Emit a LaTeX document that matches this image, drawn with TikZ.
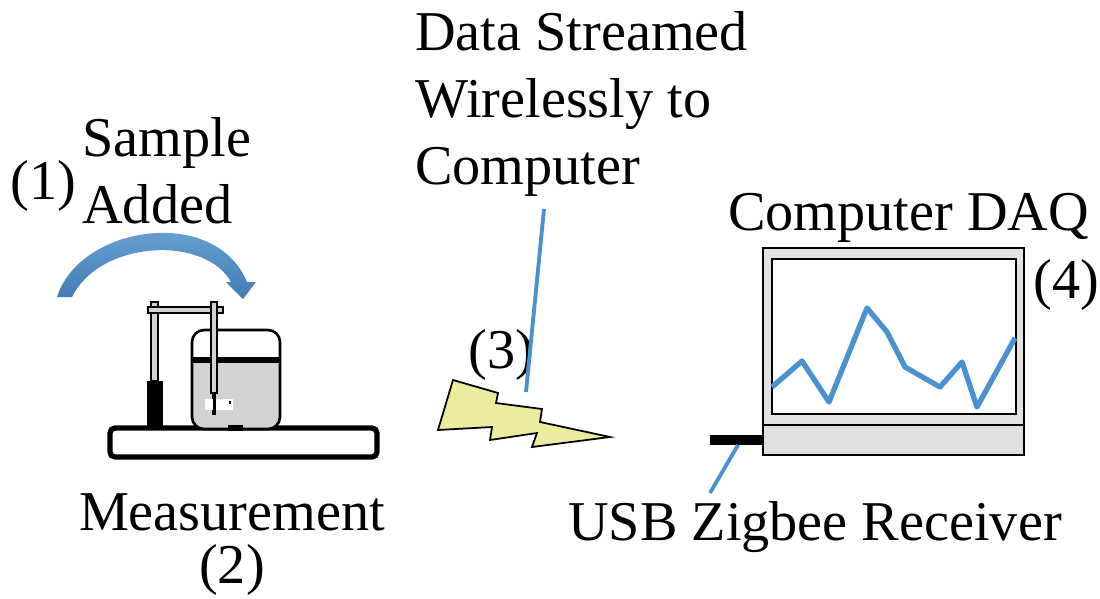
\documentclass[tikz,border=0pt]{standalone}
\usepackage{fontspec}
\setmainfont{Liberation Serif}
\usepackage{tikz}

\definecolor{wireblue}{RGB}{74,145,210}
\definecolor{boltyellow}{RGB}{236,236,158}

\tikzset{
  lbl/.style={font=\fontsize{32}{38}\selectfont, inner sep=0pt, align=left},
  wire/.style={wireblue, line width=2.2pt},
}

\begin{document}
\begin{tikzpicture}[x=0.02cm,y=-0.02cm]
  \useasboundingbox (0,0) rectangle (1100,599);

  % step labels (base = last line)
  \node[lbl,anchor=base west] (one) at (10,199) {(1)};
  \node[lbl,anchor=base west] (sample) at (82,223) {Sample\\Added};
  \node[lbl,anchor=base west] (stream) at (415,184) {Data Streamed\\Wirelessly to\\Computer};
  \node[lbl,anchor=base west] (three) at (468,368) {(3)};
  \node[lbl,anchor=base west] (daq) at (728,230) {Computer DAQ};
  \node[lbl,anchor=base west] (four) at (1033,298) {(4)};
  \node[lbl,anchor=base] (meas) at (232,530) {Measurement};
  \node[lbl,anchor=base] (two) at (232,583) {(2)};
  \node[lbl,anchor=base west] (usb) at (568,540) {USB Zigbee Receiver};

  % curved arrow, sample going in
  \shade[top color=wireblue!75, bottom color=wireblue!85!black]
    (57,297) .. controls (80,225) and (215,205) .. (247,282)
    -- (256,282) -- (243,299) -- (226,282) -- (231,282)
    .. controls (205,235) and (100,240) .. (72,297) -- cycle;

  % measurement stand
  \draw[line width=3pt, rounded corners=1mm, fill=white] (110,428) rectangle (377,457);
  \fill[black] (147,381) rectangle (163,428);
  \filldraw[fill=gray!35, line width=0.8pt] (151,302) rectangle (158,381);
  \filldraw[fill=gray!35, line width=0.8pt] (148,307) rectangle (223,313);
  % beaker
  \fill[gray!35, rounded corners=2.4mm] (192,360) -- (192,429) -- (280,429) -- (280,360) -- cycle;
  \fill[gray!35] (192,360) rectangle (280,380);
  \draw[line width=1.5pt, rounded corners=2.4mm] (192,330) -- (192,429) -- (280,429) -- (280,330) -- cycle;
  \draw[line width=3pt] (192,360) -- (280,360);
  \fill[black] (228,425) rectangle (243,431);
  % probe
  \fill[black] (212,393) rectangle (216,415);
  \filldraw[fill=gray!35, line width=0.8pt] (211,302) rectangle (217,393);
  \fill[white] (205,399) rectangle (233,410);
  \fill[black] (213,399) rectangle (216,410);
  \fill[black] (229,401) rectangle (231,404);

  % wireless bolt
  \filldraw[fill=boltyellow, line width=1pt, line join=miter]
    (453,380) -- (498,393) -- (496,403) -- (542,409) -- (540,422) -- (610,437)
    -- (532,447) -- (537,433) -- (490,440) -- (492,427) -- (438,430) -- cycle;

  % computer
  \filldraw[fill=gray!22, line width=1.2pt] (763,248) rectangle (1024,425);
  \filldraw[fill=white, line width=1.2pt] (772,259) rectangle (1016,414);
  \filldraw[fill=gray!25, line width=1.2pt] (763,425) rectangle (1024,455);
  \fill[black] (710,435) rectangle (763,445);
  \draw[wireblue, line width=3pt, line join=round] plot coordinates {
    (772,387) (802,361) (829,402) (867,308) (887,332) (905,367)
    (940,387) (962,362) (977,407) (1015,338)};

  % pointer lines
  \coordinate (streamtop) at (544,209);
  \coordinate (streambot) at (526,392);
  \draw[wire] (streamtop) -- (streambot);
  \coordinate (usbtop) at (738,445);
  \coordinate (usbbot) at (710,493);
  \draw[wire] (usbtop) -- (usbbot);
\end{tikzpicture}
\end{document}
